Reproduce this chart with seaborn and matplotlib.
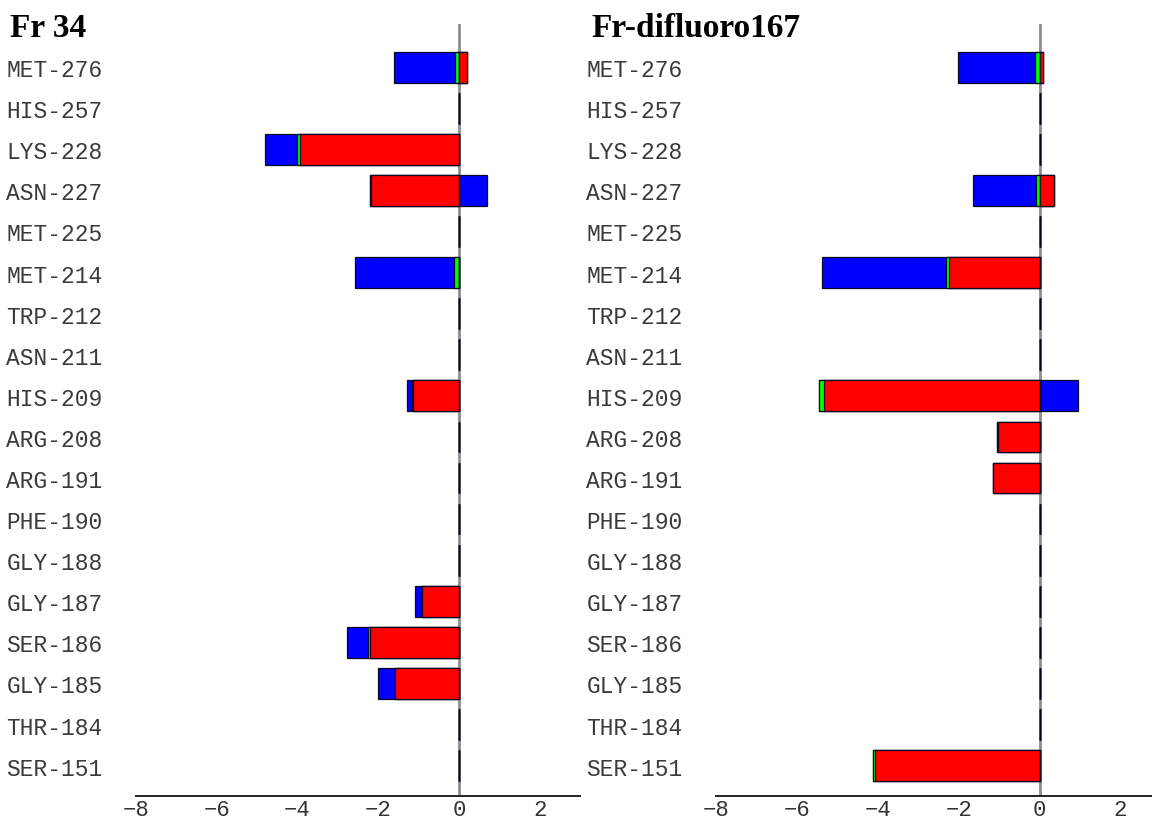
import numpy as np
import pandas as pd
import matplotlib
matplotlib.use("Agg")
import matplotlib.pyplot as plt
import seaborn as sns

sns.set_style("white")
plt.rcParams['font.family'] = ['Liberation Mono', 'DejaVu Sans Mono']

# residues, top to bottom
residues = ["MET-276", "HIS-257", "LYS-228", "ASN-227", "MET-225", "MET-214",
            "TRP-212", "ASN-211", "HIS-209", "ARG-208", "ARG-191", "PHE-190",
            "GLY-188", "GLY-187", "SER-186", "GLY-185", "THR-184", "SER-151"]

# Fr 34 energy components
fr34_red = [0.19, 0, -3.94, -2.17, 0, 0, 0, 0, -1.14, 0, 0, 0, 0, -0.92, -2.20, -1.58, 0, 0]
fr34_green = [-0.09, 0, -0.07, -0.04, 0, -0.11, 0, 0, -0.03, 0, 0, 0, 0, -0.01, -0.05, -0.01, 0, 0]
fr34_blue = [-1.53, 0, -0.79, 0.70, 0, -2.47, 0, 0, -0.11, 0, 0, 0, 0, -0.17, -0.53, -0.41, 0, 0]

# Fr-difluoro167 energy components
dif_red = [0.08, 0, 0, 0.35, 0, -2.23, 0, 0, -5.33, -1.03, -1.14, 0, 0, 0, 0, 0, 0, -4.07]
dif_green = [-0.11, 0, 0, -0.10, 0, -0.08, 0, 0, -0.12, -0.01, -0.02, 0, 0, 0, 0, 0, 0, -0.04]
dif_blue = [-1.91, 0, 0, -1.55, 0, -3.06, 0, 0, 0.95, 0, 0, 0, 0, 0, 0, 0, 0, 0]

panels = [
    ("Fr 34", fr34_red, fr34_green, fr34_blue, (-8, 3.0)),
    ("Fr-difluoro167", dif_red, dif_green, dif_blue, (-8, 2.78)),
]

fig = plt.figure(figsize=(11.52, 8.28), dpi=100)
W, H = 1152, 828
axes_px = [(136, 580), (716, 1152)]
title_x = [10, 591]
y_top, y_bot = 25, 797


def stacked(r, g, b):
    r, g, b = np.array(r), np.array(g), np.array(b)
    neg = lambda a: np.minimum(a, 0)
    pos = lambda a: np.maximum(a, 0)
    rn, rp = neg(r), pos(r)
    gn, gp = rn + neg(g), rp + pos(g)
    bn, bp = gn + neg(b), gp + pos(b)
    # drawn outermost first so inner layers sit on top
    return [("#0000ff", bn, bp), ("#00ff00", gn, gp), ("#ff0000", rn, rp)]


for i, (title, red, green, blue, xlim) in enumerate(panels):
    x0, x1 = axes_px[i]
    ax = fig.add_axes([x0 / W, 1 - y_bot / H, (x1 - x0) / W, (y_bot - y_top) / H])
    ax.axvline(0, color="#8c8c8c", lw=2, zorder=0.5)

    for color, negs, poss in stacked(red, green, blue):
        for vals in (negs, poss):
            df = pd.DataFrame({"residue": residues, "energy": vals})
            sns.barplot(data=df, x="energy", y="residue", orient="h", color=color,
                        saturation=1, width=0.75, edgecolor="#0a0a22", linewidth=0.9,
                        errorbar=None, ax=ax)

    ax.set_xlim(*xlim)
    ax.set_ylim(17.74, -1.05)
    ax.set_xlabel("")
    ax.set_ylabel("")
    ax.set_xticks([-8, -6, -4, -2, 0, 2])
    for s in ["left", "top", "right"]:
        ax.spines[s].set_visible(False)
    ax.spines["bottom"].set_color("#222222")
    ax.spines["bottom"].set_linewidth(1.4)
    ax.tick_params(axis="x", direction="in", length=7, width=1.2, color="#222222",
                   labelsize=16, pad=2, labelcolor="#333333")
    ax.tick_params(axis="y", length=0, pad=24, labelsize=16.5, labelcolor="#3a3a3a")

    fig.text(title_x[i] / W, 1 - 37 / H, title, fontsize=24, fontweight="bold",
             family="Liberation Serif", va="baseline", ha="left", color="black")

fig.savefig("out.png", dpi=100)
